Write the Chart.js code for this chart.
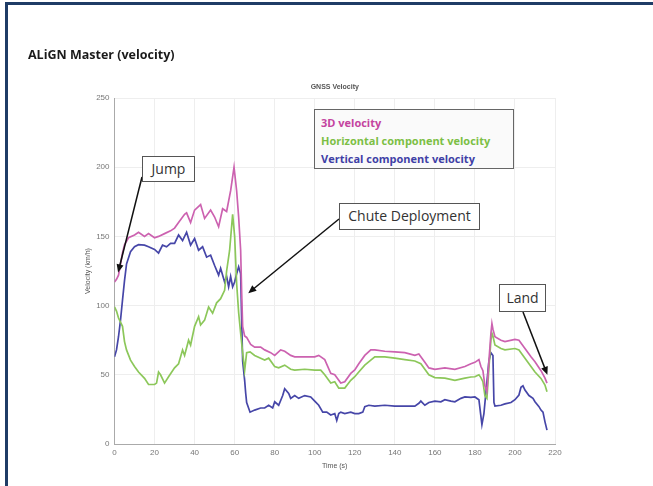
<!DOCTYPE html>
<html>
<head>
<meta charset="utf-8">
<script src="https://cdn.jsdelivr.net/npm/chart.js@4"></script>
<style>
  html, body { margin: 0; padding: 0; background: #fff; overflow: hidden; }
  #wrap { position: relative; width: 653px; height: 486px; }
  #frame { position: absolute; left: 5px; top: 2px; width: 700px; height: 600px;
           border-left: 3px solid #1f3c66; border-top: 3px solid #1f3c66; }
  #title { position: absolute; left: 28px; top: 46px; font: 700 12.5px "Open Sans", sans-serif; color: #1a1a1a; }
  .note { position: absolute; border: 1.5px solid #555; background: #fff; box-sizing: border-box;
          font: 14px "Open Sans", sans-serif; color: #333; text-align: center; }
  #legend { position: absolute; left: 314px; top: 109px; width: 200px; height: 60px; box-sizing: border-box;
            border: 1.5px solid #666; background: #fafafa; padding: 4px 0 0 6px;
            font: 700 11px "Open Sans", sans-serif; line-height: 18px; }
  canvas { position: absolute; left: 0; top: 0; }
</style>
</head>
<body>
<div id="wrap">
  <canvas id="velocidad" width="653" height="486"></canvas>
  <div id="frame"></div>
  <div id="title">ALiGN Master (velocity)</div>
  <div id="legend">
    <div style="color:#c4449f">3D velocity</div>
    <div style="color:#7cbf45">Horizontal component velocity</div>
    <div style="color:#3f3fa6">Vertical component velocity</div>
  </div>
  <div class="note" style="left:142px;top:156px;width:53px;height:26px;line-height:23px">Jump</div>
  <div class="note" style="left:339px;top:203px;width:141px;height:27px;line-height:24px">Chute Deployment</div>
  <div class="note" style="left:499px;top:284px;width:47px;height:28px;line-height:25px">Land</div>
</div>
<script>
// time (s) and velocity (km/h)
var t3d = [0, 1, 2, 3, 4, 5, 7, 10, 12, 15, 17, 20, 22, 25, 28, 30, 32, 35, 36, 38, 40, 43, 45, 48, 50, 52, 54, 56, 58, 59.7, 61, 62, 63, 63.5, 64, 65, 66, 68, 70, 73, 75, 78, 80, 83, 85, 88, 90, 95, 100, 102, 105, 108, 110, 113, 115, 118, 120, 122, 125, 128, 130, 135, 140, 145, 150, 152, 153, 155, 157, 160, 165, 170, 175, 178, 180, 182, 183, 184, 185, 186, 187, 188, 188.5, 189, 190, 193, 195, 200, 202, 205, 208, 210, 213, 215, 216];
var v3d = [117, 119, 122, 130, 138, 144, 149, 151, 153, 150, 152, 149, 150, 152, 154, 156, 160, 166, 167, 160, 169, 173, 163, 169, 164, 157, 170, 168, 183, 200, 183, 164, 140, 110, 85, 78, 77, 72, 70, 70, 68, 66, 64, 68, 67, 64, 63, 63, 63, 64, 61, 51, 50, 44, 45, 51, 53.5, 58, 64, 68, 68, 67, 66.6, 66, 64, 65, 63, 59, 55, 54, 55, 54, 56, 58, 59, 61, 56, 53, 42, 38, 60, 80, 87, 83, 77.5, 75, 74, 75.6, 75, 69, 63, 59.4, 53, 47.6, 44];

var tHor = [0, 1, 2, 4, 5, 6, 8, 10, 12, 15, 17, 20, 21, 22, 23, 25, 27, 30, 32, 34, 35, 37, 38, 40, 42, 43, 45, 47, 49, 51, 53, 55, 56, 57.5, 59, 60, 61, 62, 63, 64, 65, 66, 67.7, 70, 73, 75, 77, 80, 82, 85, 88, 90, 95, 100, 103, 105, 108, 110, 112, 115, 118, 120, 122, 125, 128, 130, 135, 140, 145, 150, 153, 155, 157, 160, 165, 170, 175, 178, 180, 182, 183, 184, 185, 186, 187, 188, 188.5, 189, 190, 193, 195, 200, 202, 205, 208, 210, 213, 215, 216];
var vHor = [99, 96, 91, 85, 74, 68, 60.6, 56, 52, 47.4, 43, 43, 44, 52, 50, 44, 48.6, 55, 58, 68, 64, 75, 71.5, 85, 92, 86, 89.5, 99, 94.5, 102, 105, 111, 125, 140, 166, 150, 116, 95, 80, 66, 53, 66, 66.6, 64, 62, 60.6, 62, 56, 55, 57, 54, 53.4, 54, 53.4, 53.4, 50, 44, 45, 40.4, 40.4, 46, 48.6, 52, 57, 60.6, 63, 63, 62, 61, 60, 58, 54, 50, 48, 47.6, 46, 47.6, 48.4, 48.6, 50, 48, 45, 35, 33, 55, 75, 80, 78, 71.5, 69, 68, 69, 68, 62, 56, 52, 47.4, 42.6, 37.8];

var tVer = [0, 1, 2, 3, 4, 5, 6, 8, 10, 12, 15, 17, 20, 22, 24, 26, 28, 30, 32, 34, 36, 38, 40, 42, 44, 46, 48, 50, 52, 53, 55, 56, 57, 58, 59, 60, 61, 62, 63, 63.5, 64, 65, 65.5, 66, 67.7, 70, 73, 75, 77, 79, 80, 82, 84, 85, 87, 88, 90, 92, 95, 98, 100, 102, 104, 106, 108, 110, 111, 112, 113, 115, 118, 120, 122, 124, 125, 127, 130, 135, 140, 145, 150, 152, 153, 155, 157, 160, 163, 165, 168, 170, 173, 175, 178, 180, 182, 183, 183.5, 184.5, 186, 187, 188, 189, 189.5, 190, 193, 195, 198, 200, 202, 203, 204, 205, 207, 209, 210, 212, 213, 214, 215, 216];
var vVer = [63, 68, 77.5, 89.5, 104, 118, 130, 139, 142.5, 144, 143.7, 142.5, 140.6, 138, 143.7, 142.5, 145, 145, 151, 147, 153, 143.7, 148.5, 140, 142.5, 135, 136.5, 129, 122, 127, 117, 121, 113.6, 121, 113.6, 117, 123, 128, 123, 90, 60, 46, 37, 30, 23, 24.5, 26, 26, 28, 26, 30.5, 28, 35, 40, 36.6, 33, 35, 33, 35, 34, 31, 28, 23, 23, 21, 22, 17, 22, 23, 22, 23, 22, 22, 23, 27, 28, 27.4, 28, 27.4, 27.4, 27.4, 29.4, 31, 28, 30, 31, 30.5, 32, 31, 30.5, 33, 34, 33.7, 34, 32, 20, 14, 22, 45, 60, 66, 64, 30, 27.4, 28, 29, 30, 32, 35.4, 41, 42, 39, 35, 33, 30.5, 27, 24.5, 23, 16, 10];

var xTicks = [0, 20, 40, 60, 80, 100, 120, 140, 160, 180, 200, 220];
var yTicks = [0, 50, 100, 150, 200, 250];

// arrow tips in data units, tails in page pixels (on the note boxes)
var flechas = [
  { desde: [142, 177], t: 1.8, v: 124 },
  { desde: [339, 219], t: 66.8, v: 109 },
  { desde: [523, 312], t: 216.2, v: 50 }
];

function puntos(ts, vs) {
  return ts.map(function (t, i) { return { x: t, y: vs[i] }; });
}

var pluginFlechas = {
  id: 'flechas',
  afterDraw: function (chart) {
    var ctx = chart.ctx;
    var sx = chart.scales.x, sy = chart.scales.y;
    ctx.save();
    ctx.strokeStyle = '#111';
    ctx.fillStyle = '#111';
    ctx.lineWidth = 1.5;
    flechas.forEach(function (f) {
      var x0 = f.desde[0], y0 = f.desde[1];
      var x1 = sx.getPixelForValue(f.t), y1 = sy.getPixelForValue(f.v);
      var ang = Math.atan2(y1 - y0, x1 - x0);
      ctx.beginPath();
      ctx.moveTo(x0, y0);
      ctx.lineTo(x1 - 5 * Math.cos(ang), y1 - 5 * Math.sin(ang));
      ctx.stroke();
      ctx.beginPath();
      ctx.moveTo(x1, y1);
      ctx.lineTo(x1 - 8 * Math.cos(ang) + 3.5 * Math.sin(ang), y1 - 8 * Math.sin(ang) - 3.5 * Math.cos(ang));
      ctx.lineTo(x1 - 8 * Math.cos(ang) - 3.5 * Math.sin(ang), y1 - 8 * Math.sin(ang) + 3.5 * Math.cos(ang));
      ctx.closePath();
      ctx.fill();
    });
    ctx.restore();
  }
};

const chart = new Chart(
  document.getElementById('velocidad'),
  {
    type: 'line',
    data: {
      datasets: [
        { label: '3D velocity', data: puntos(t3d, v3d), borderColor: '#cc62b0', borderWidth: 1.7 },
        { label: 'Horizontal component velocity', data: puntos(tHor, vHor), borderColor: '#8cc75a', borderWidth: 1.7 },
        { label: 'Vertical component velocity', data: puntos(tVer, vVer), borderColor: '#4646a8', borderWidth: 1.7 }
      ]
    },
    options: {
      responsive: false,
      animation: false,
      parsing: true,
      elements: { point: { radius: 0 }, line: { tension: 0 } },
      layout: { padding: { left: 80, right: 98, top: 83, bottom: 12 } },
      plugins: {
        legend: { display: false },
        tooltip: { enabled: false },
        title: {
          display: true,
          text: 'GNSS Velocity',
          fullSize: false,
          color: '#555',
          font: { family: 'Arial, sans-serif', size: 7 },
          padding: { top: 0, bottom: 6.6 }
        }
      },
      scales: {
        x: {
          type: 'linear',
          min: 0,
          max: 220,
          afterBuildTicks: function (s) { s.ticks = xTicks.map(function (v) { return { value: v }; }); },
          afterFit: function (s) { s.height = 30; },
          ticks: { color: '#777', font: { family: 'Arial, sans-serif', size: 8 }, padding: 4, maxRotation: 0 },
          grid: { color: '#eeeeee', drawTicks: false },
          border: { color: '#aaa', width: 1 },
          title: { display: true, text: 'Time (s)', color: '#555', font: { family: 'Arial, sans-serif', size: 7 }, padding: { top: 0, bottom: 4 } }
        },
        y: {
          type: 'linear',
          min: 0,
          max: 250,
          afterBuildTicks: function (s) { s.ticks = yTicks.map(function (v) { return { value: v }; }); },
          afterFit: function (s) { s.width = 34.5; },
          ticks: { color: '#777', font: { family: 'Arial, sans-serif', size: 8 }, padding: 5 },
          grid: { color: '#eeeeee', drawTicks: false },
          border: { color: '#aaa', width: 1 },
          title: { display: true, text: 'Velocity (km/h)', color: '#555', font: { family: 'Arial, sans-serif', size: 7 }, padding: { top: 4, bottom: 0 } }
        }
      }
    },
    plugins: [pluginFlechas]
  }
);
</script>
</body>
</html>
